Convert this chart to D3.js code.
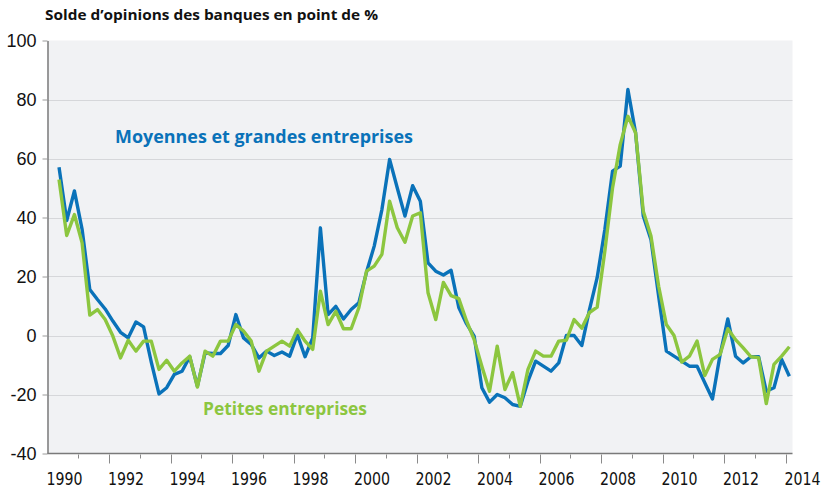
<!DOCTYPE html>
<html>
<head>
<meta charset="utf-8">
<script src="https://cdn.jsdelivr.net/npm/d3@7"></script>
<style>
  body { margin: 0; background: #fff; }
  svg { display: block; }
</style>
</head>
<body>
<svg id="chart" width="824" height="491"></svg>
<script>
// quarterly series, first point = 1990 Q2
const startYear = 1990.375;
const grandes = [57, 39, 49, 36, 15.6, 12.2, 9, 4.9, 1.1, -0.8, 4.6, 2.9,
  -9, -19.8, -17.7, -13.2, -12.1, -7.2, -17.2, -5.9, -6.1, -6.1, -3.4, 7.1,
  -0.8, -3, -7.6, -5.3, -6.8, -5.6, -7, 0.3, -7.2, -0.8, 36.5, 7.1,
  9.9, 5.6, 8.8, 11.1, 21.5, 30.3, 42.7, 59.7, 50, 40.5, 50.8, 45.5,
  24.6, 21.8, 20.5, 22.1, 9.5, 4, -0.2, -17.7, -22.6, -20, -21.1, -23.4,
  -24, -15.5, -8.7, -10.4, -12.1, -9.3, 0, 0, -3.4, 8.8, 19.6, 35.9,
  55.7, 57.4, 83.4, 68.7, 40.5, 32.5, 13.3, -5.3, -7, -8.7, -10.4, -10.4,
  -16, -21.5, -6.4, 5.6, -7, -9.3, -7.2, -7.2, -18.9, -17.7, -8.1, -13.8];
const petites = [52.9, 33.9, 41, 31.4, 6.9, 8.8, 5.4, -0.2, -7.6, -1.6, -5.3, -1.9,
  -1.9, -11.5, -8.4, -12.1, -9.3, -7, -17.5, -5.3, -7, -1.9, -1.9, 3.7,
  1.5, -1.9, -12.1, -5.3, -3.6, -1.9, -3.6, 2, -1.9, -4.7, 15, 3.7,
  8.2, 2.3, 2.3, 9.4, 21.8, 23.5, 27.5, 45.5, 36.5, 31.6, 40.5, 41.6,
  14.5, 5.4, 18, 13.5, 12.5, 5, -1.4, -10.4, -18.9, -3.6, -18.3, -12.6,
  -24, -11.5, -5.3, -7, -7, -1.9, -1.6, 5.4, 2.5, 7.8, 9.6, 28.6,
  50, 64.7, 74.3, 68.7, 42.1, 33.7, 16.7, 3.7, 0, -9, -7, -1.9,
  -13.6, -8.1, -6.4, 2.3, -1.4, -4.2, -7.2, -7.5, -23.1, -9.8, -7, -3.8];
const yTicks = [-40, -20, 0, 20, 40, 60, 80, 100];
const yearTicks = d3.range(1990, 2015);
const yearLabels = d3.range(1990, 2015, 2);

const svg = d3.select("#chart");
const pLeft = 47.5, pRight = 792.5, pTop = 40.5, pBottom = 453.5;

const x = d3.scaleLinear().domain([1990, 2014]).range([pLeft, 785.5]);
const y = d3.scaleLinear().domain([-40, 100]).range([pBottom, pTop]);

// plot background
svg.append("rect")
  .attr("x", pLeft).attr("y", pTop)
  .attr("width", pRight - pLeft).attr("height", pBottom - pTop)
  .attr("fill", "#f1f2f4");

// grid
svg.append("g").selectAll("line")
  .data(yTicks.filter(d => d > -40 && d < 100))
  .join("line")
  .attr("x1", pLeft).attr("x2", pRight)
  .attr("y1", d => Math.round(y(d)) + 0.5).attr("y2", d => Math.round(y(d)) + 0.5)
  .attr("stroke", "#d6d7da").attr("stroke-width", 1);

// y axis
const yAxis = svg.append("g")
  .attr("transform", `translate(${pLeft},0)`)
  .call(d3.axisLeft(y).tickValues(yTicks).tickSize(5).tickSizeOuter(0).tickFormat(d => d));
yAxis.select(".domain").attr("stroke", "#7a7a7a").attr("stroke-width", 1.5);
yAxis.selectAll(".tick line").attr("stroke", "#9a9a9a");
yAxis.selectAll("text")
  .attr("x", -11)
  .attr("font-family", "'Liberation Sans', Arial, sans-serif")
  .attr("font-size", 18).attr("fill", "#111");

// x axis
const xAxis = svg.append("g").attr("transform", `translate(0,${pBottom})`);
xAxis.append("line")
  .attr("x1", pLeft).attr("x2", pRight).attr("y1", 0).attr("y2", 0)
  .attr("stroke", "#7a7a7a").attr("stroke-width", 1.5);
xAxis.selectAll(".tk")
  .data(yearTicks.slice(1))
  .join("line")
  .attr("x1", d => Math.round(x(d)) + 0.5).attr("x2", d => Math.round(x(d)) + 0.5)
  .attr("y1", 1).attr("y2", d => d % 2 === 0 ? 10 : 5)
  .attr("stroke", "#8a8a8a");
xAxis.selectAll(".lb")
  .data(yearLabels)
  .join("text")
  .attr("x", d => x(d) - 1).attr("y", 31)
  .attr("font-family", "'Liberation Sans Narrow', 'DejaVu Sans Condensed', sans-serif")
  .attr("font-size", 17).attr("fill", "#111")
  .attr("textLength", 36).attr("lengthAdjust", "spacingAndGlyphs")
  .text(d => d);

// lines
const line = d3.line()
  .x((d, i) => x(startYear + i * 0.25))
  .y(d => y(d));

svg.append("path").datum(grandes)
  .attr("d", line).attr("fill", "none")
  .attr("stroke", "#0a72b9").attr("stroke-width", 3.4)
  .attr("stroke-linejoin", "round");
svg.append("path").datum(petites)
  .attr("d", line).attr("fill", "none")
  .attr("stroke", "#8cc63f").attr("stroke-width", 3.4)
  .attr("stroke-linejoin", "round");

// labels
svg.append("text")
  .attr("x", 45).attr("y", 20)
  .attr("font-family", "'Open Sans', sans-serif").attr("font-weight", "bold")
  .attr("font-size", 14).attr("fill", "#111")
  .attr("textLength", 333).attr("lengthAdjust", "spacingAndGlyphs")
  .text("Solde d’opinions des banques en point de %");

svg.append("text")
  .attr("x", 115).attr("y", 143)
  .attr("font-family", "'Open Sans', sans-serif").attr("font-weight", "bold")
  .attr("font-size", 17).attr("fill", "#0a72b9")
  .attr("textLength", 298).attr("lengthAdjust", "spacingAndGlyphs")
  .text("Moyennes et grandes entreprises");

svg.append("text")
  .attr("x", 203).attr("y", 415)
  .attr("font-family", "'Open Sans', sans-serif").attr("font-weight", "bold")
  .attr("font-size", 17).attr("fill", "#8cc63f")
  .attr("textLength", 164).attr("lengthAdjust", "spacingAndGlyphs")
  .text("Petites entreprises");
</script>
</body>
</html>
